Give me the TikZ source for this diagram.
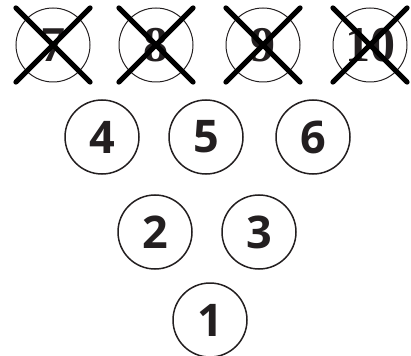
\documentclass[tikz,border=0pt]{standalone}
\usepackage{fontspec}
\usepackage{tikz}
\usetikzlibrary{positioning}
\newfontfamily\pinfont{Open Sans}
\newfontfamily\downfont{Liberation Serif}
\definecolor{ink}{HTML}{231F20}

\begin{document}
\begin{tikzpicture}[x=1pt, y=1pt,
Pnode/.style={circle, draw=ink, line width=1.5pt, minimum size=74pt, inner sep=0pt, text=ink, font=\pinfont\bfseries\fontsize{45}{45}\selectfont},
P0node/.style={circle, draw=ink, line width=1pt, minimum size=74pt, inner sep=0pt, text=ink, font=\downfont\bfseries\fontsize{50}{50}\selectfont},
Xline/.style={line width=5pt, line cap=round, shorten <=-15pt, shorten >=-15pt}
]
\useasboundingbox (0,0) rectangle (411,-355);
%Nodes
\node[P0node] (P7) at (53,-45) {7};
\node[P0node] (P8) at (156,-45) {8};
\node[P0node] (P9) at (263,-45) {9};
\node[P0node] (P10) at (370,-45) {10};

\node[Pnode] (P4) at (102,-137) {4};
\node[Pnode] (P5) at (206,-137) {5};
\node[Pnode] (P6) at (313,-137) {6};
\node[Pnode] (P2) at (155,-232) {2};
\node[Pnode] (P3) at (259,-232) {3};
\node[Pnode] (P1) at (210,-320) {1};

%Crosses
\draw[Xline] (P7.north west) -- (P7.south east);
\draw[Xline] (P7.north east) -- (P7.south west);
\draw[Xline] (P8.north west) -- (P8.south east);
\draw[Xline] (P8.north east) -- (P8.south west);
\draw[Xline] (P9.north west) -- (P9.south east);
\draw[Xline] (P9.north east) -- (P9.south west);
\draw[Xline] (P10.north west) -- (P10.south east);
\draw[Xline] (P10.north east) -- (P10.south west);
\end{tikzpicture}
\end{document}
